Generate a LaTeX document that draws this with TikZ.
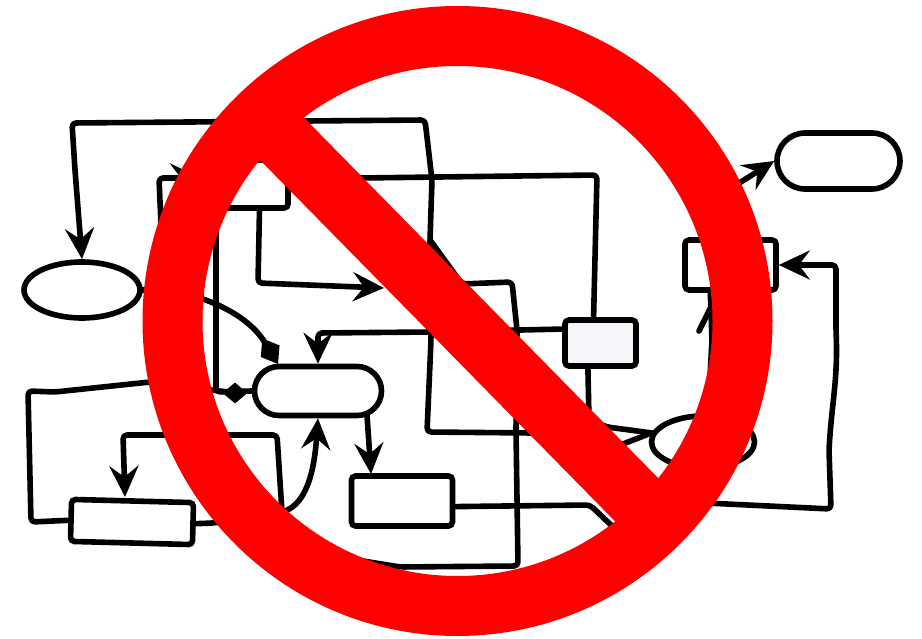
\documentclass[tikz,border=0pt]{standalone}
\usetikzlibrary{arrows.meta,shapes.geometric,shapes.misc}
\definecolor{signred}{RGB}{255,0,0}
\definecolor{boxgray}{RGB}{245,246,250}
\begin{document}
\begin{tikzpicture}[
    x=1pt,y=-1pt,
    wire/.style={line width=5.6pt,line cap=round,line join=round,rounded corners=4pt},
    arrow/.style={wire,-{Stealth[length=31pt,width=29pt,inset=11pt]}},
    shape box/.style={rectangle,draw,line width=5.6pt,rounded corners=4pt,inner sep=0pt},
    shape oval/.style={ellipse,draw,line width=5.6pt,inner sep=0pt},
    shape pill/.style={rounded rectangle,draw,line width=5.6pt,inner sep=0pt},
    blob/.style={diamond,fill=black,inner sep=0pt,minimum width=25pt,minimum height=21pt},
    ring/.style={circle,draw=signred,line width=60pt,minimum size=570pt,inner sep=0pt,outer sep=0pt},
    bar/.style={signred,line width=61pt}
]
    \useasboundingbox (0,0) rectangle (922,639);
    \node[shape oval,minimum width=116pt,minimum height=56pt] (startoval) at (82,290) {};
    \node[shape box,minimum width=88pt,minimum height=48pt] (upperbox) at (244,184) {};
    \node[shape pill,minimum width=127pt,minimum height=49pt] (centreoval) at (318,391) {};
    \node[shape box,minimum width=101pt,minimum height=50pt] (lowerbox) at (402,501) {};
    \node[shape box,rotate=-1.5,minimum width=122pt,minimum height=42pt] (sidebox) at (132,522) {};
    \node[shape box,fill=boxgray,minimum width=71pt,minimum height=46pt] (greybox) at (600.5,343) {};
    \node[shape box,minimum width=91pt,minimum height=50pt] (rightbox) at (730.5,265) {};
    \node[shape pill,minimum width=123pt,minimum height=56pt] (endoval) at (838.5,161) {};
    \node[shape oval,minimum width=103pt,minimum height=52pt] (rightoval) at (703,442) {};
    \node[blob] (dot) at (235,393) {};
    \coordinate (midstub) at (532,433);
    \coordinate (bottomend) at (340,555);
    \coordinate (fork) at (430,240);
    \coordinate (loopfoot) at (282,512);
    \coordinate (blobend) at (278,364);
    \coordinate (ovalfoot) at (367,415);
    \coordinate (barbend) at (699,331);
    \coordinate (barbtip) at (712,305);
    \coordinate (crossa) at (623,444);
    \draw[arrow] (midstub) -- (427,432) -- (431,340) -- (fork) -- (432,180) -- (425,120) -- (72,123) -- (75,170) -- (startoval.north);
    \draw[wire] (fork) -- (462,284) -- (512,282) -- (517,330) -- (516,430) -- (518,566) -- (400,567) -- (363,561) -- (bottomend);
    \draw[wire] (upperbox.east) -- (360,178) -- (597,175) -- (greybox.105);
    \draw[arrow] (upperbox.-60) -- (258,283) -- (384,288);
    \draw[arrow] (greybox.160) -- (432,332) -- (318,333) -- (centreoval.north);
    \draw[wire] (greybox.244) -- (589,420) -- (607,427) -- (rightoval.170);
    \draw[wire] (crossa) -- (rightoval.170);
    \draw[wire] (lowerbox.-6) -- (590,505) -- (612,526);
    \draw[arrow] (ovalfoot) -- (371,474);
    \draw[wire,-{Diamond[length=30pt,width=22pt]}] (startoval.east) .. controls (190,288) and (245,310) .. (blobend);
    \draw[arrow] (centreoval.west) -- (216,392) -- (216,225) -- (161,225) -- (159,178) -- (201,178);
    \draw[wire] (sidebox.west) -- (31,522) -- (28,391) -- (55,392) -- (150,382) -- (dot);
    \draw[wire] (sidebox.east) -- (214,523) -- (loopfoot);
    \draw[arrow] (loopfoot) .. controls (310,505) and (315,460) .. (centreoval.south);
    \draw[arrow] (loopfoot) -- (277,435) -- (123,435) -- (125,497);
    \draw[wire] (rightoval.80) -- (712,340) -- (rightbox.-126);
    \draw[wire] (barbend) -- (barbtip);
    \draw[arrow] (rightoval.south) -- (706,503) -- (831,509) -- (829,450) .. controls (832,400) and (838,380) .. (836,330) -- (836,265) -- (rightbox.east);
    \draw[arrow] (rightbox.north) -- (725,192) -- (endoval.west);
    \node[ring] (nosign) at (457.5,321) {};
    \draw[bar] (nosign.134.7) -- (nosign.-45.3);
\end{tikzpicture}
\end{document}
